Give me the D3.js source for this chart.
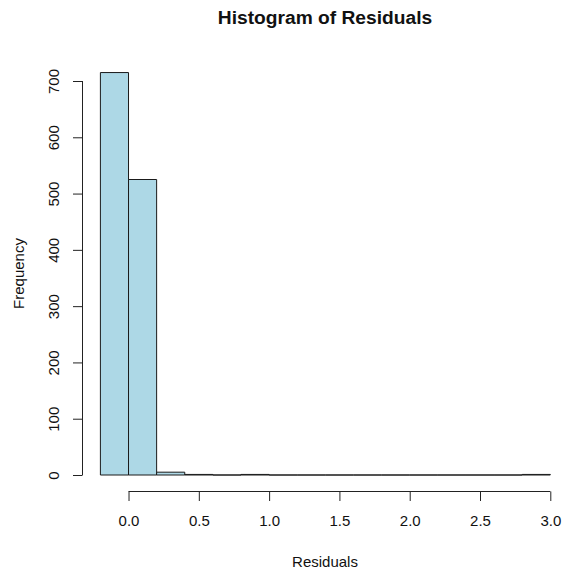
<!DOCTYPE html>
<html>
<head>
<meta charset="utf-8">
<script src="https://cdn.jsdelivr.net/npm/d3@7"></script>
<style>
  html, body { margin: 0; padding: 0; background: #fff; }
  svg { display: block; font-family: "Liberation Sans", Arial, sans-serif; }
</style>
</head>
<body>
<svg id="chart" width="565" height="575"></svg>
<script>
// Data: histogram bins (width 0.2) and counts
const binStarts = [-0.2, 0.0, 0.2, 0.4, 0.6, 0.8, 1.0, 1.2, 1.4, 1.6, 1.8, 2.0, 2.2, 2.4, 2.6, 2.8];
const binWidth = 0.2;
const counts    = [715, 525, 5, 1, 0, 1, 0, 0, 0, 0, 0, 0, 0, 0, 0, 1];
const xTicks = [0, 0.5, 1.0, 1.5, 2.0, 2.5, 3.0];
const xTickLabels = ["0.0", "0.5", "1.0", "1.5", "2.0", "2.5", "3.0"];
const yTicks = [0, 100, 200, 300, 400, 500, 600, 700];
const title = "Histogram of Residuals";
const xLabel = "Residuals";
const yLabel = "Frequency";

const svg = d3.select("#chart");

const x = d3.scaleLinear().domain([-0.2, 3.0]).range([100.4, 550.3]);
const y = d3.scaleLinear().domain([0, 700]).range([475, 81]);

const axisY = 491.5;   // x-axis line position
const axisX = 82.5;    // y-axis line position

// Bars (drawn as closed paths so that empty bins appear as flat lines, like R)
svg.append("g").selectAll("path")
  .data(binStarts.map((s, i) => ({ s, c: counts[i] })))
  .join("path")
  .attr("d", d => {
    const x0 = x(d.s), x1 = x(d.s + binWidth), y0 = y(0), y1 = y(d.c);
    return `M${x0},${y0}V${y1}H${x1}V${y0}Z`;
  })
  .attr("fill", "#ADD8E6")
  .attr("stroke", "#1a1a1a")
  .attr("stroke-width", 1);

// X axis
const gx = svg.append("g").attr("transform", `translate(0,${axisY})`)
  .call(d3.axisBottom(x).tickValues(xTicks).tickFormat((d, i) => xTickLabels[i]).tickSize(9.5).tickSizeOuter(0));
gx.select(".domain").attr("d", `M${x(0)},0H${x(3)}`).attr("stroke", "#222");
gx.selectAll(".tick line").attr("stroke", "#222");
gx.selectAll("text").attr("y", 34.5).attr("dy", null)
  .attr("font-size", 15).attr("fill", "#111")
  .attr("font-family", "'Liberation Sans', Arial, sans-serif");

// Y axis
const gy = svg.append("g").attr("transform", `translate(${axisX},0)`)
  .call(d3.axisLeft(y).tickValues(yTicks).tickSize(9.5).tickSizeOuter(0));
gy.select(".domain").attr("d", `M0,${y(0)}V${y(700)}`).attr("stroke", "#222");
gy.selectAll(".tick line").attr("stroke", "#222");
gy.selectAll("text").attr("x", 0).attr("dy", null)
  .attr("text-anchor", "middle")
  .attr("transform", `translate(${58.5 - axisX},0) rotate(-90)`)
  .attr("font-size", 15).attr("fill", "#111")
  .attr("font-family", "'Liberation Sans', Arial, sans-serif");

// Title
svg.append("text").attr("x", 325).attr("y", 24)
  .attr("text-anchor", "middle").attr("font-weight", "bold")
  .attr("font-size", 19.2).attr("fill", "#111").text(title);

// X label
svg.append("text").attr("x", 325).attr("y", 567)
  .attr("text-anchor", "middle").attr("font-size", 15).attr("fill", "#111").text(xLabel);

// Y label
svg.append("text").attr("transform", "translate(24,273.5) rotate(-90)")
  .attr("text-anchor", "middle").attr("font-size", 15).attr("fill", "#111").text(yLabel);
</script>
</body>
</html>
